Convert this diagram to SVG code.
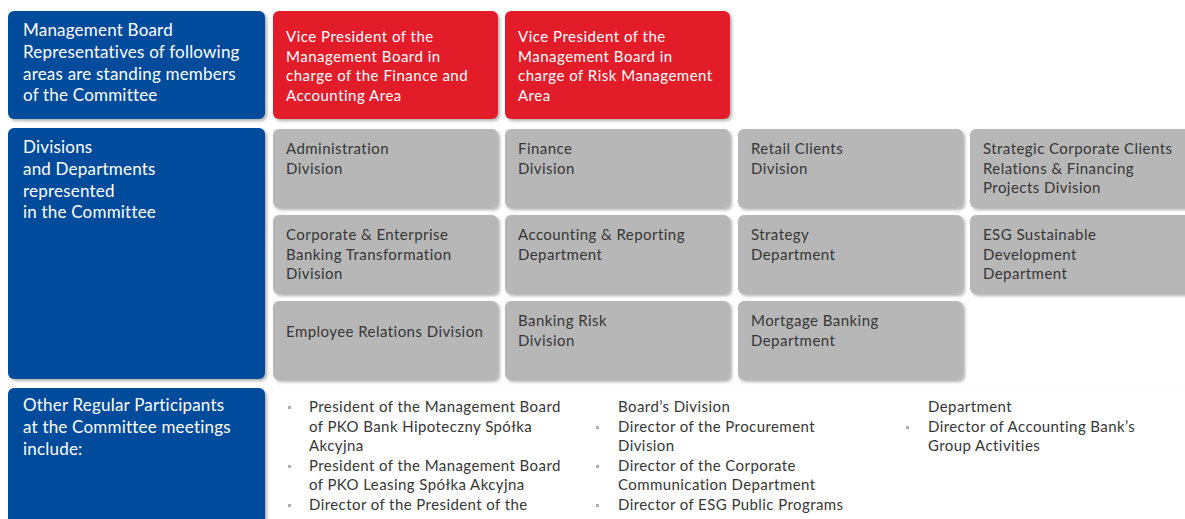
<svg xmlns="http://www.w3.org/2000/svg" width="1185" height="519" viewBox="0 0 1185 519">
<defs>
<filter id="sh" x="-5%" y="-5%" width="112%" height="120%">
<feDropShadow dx="2" dy="2" stdDeviation="1.5" flood-color="#000" flood-opacity="0.3"/>
</filter>
<style>
.blue{fill:#004c9b;filter:url(#sh)}
.red{fill:#e31d2c;filter:url(#sh)}
.grey{fill:#b7b7b7;filter:url(#sh)}
.bt{font-family:Lato,"Liberation Sans",sans-serif;font-size:17px;fill:#ffffff;letter-spacing:0.2px}
.rt{font-family:Lato,"Liberation Sans",sans-serif;font-size:15px;fill:#ffffff;letter-spacing:0.5px}
.gt{font-family:Lato,"Liberation Sans",sans-serif;font-size:15px;fill:#363636;letter-spacing:0.45px}
.lt{font-family:Lato,"Liberation Sans",sans-serif;font-size:15px;fill:#363636;letter-spacing:0.42px}
.bul{fill:#b0b0b0}
</style>
</defs>
<rect width="1185" height="519" fill="#ffffff"/>
<g id="panel-bottom">
<rect x="273" y="386" width="920" height="140" fill="#ffffff" filter="url(#sh)"/>
</g>
<g id="hdr-mgmt">
<rect class="blue" x="8" y="11" width="257" height="108" rx="6"/>
<text class="bt" x="23" y="36">Management Board</text>
<text class="bt" x="23" y="58">Representatives of following</text>
<text class="bt" x="23" y="80">areas are standing members</text>
<text class="bt" x="23" y="101">of the Committee</text>
</g>
<g id="vp-finance">
<rect class="red" x="273" y="11" width="225" height="108" rx="6"/>
<text class="rt" x="286" y="42">Vice President of the</text>
<text class="rt" x="286" y="62">Management Board in</text>
<text class="rt" x="286" y="81">charge of the Finance and</text>
<text class="rt" x="286" y="101">Accounting Area</text>
</g>
<g id="vp-risk">
<rect class="red" x="505" y="11" width="225" height="108" rx="6"/>
<text class="rt" x="518" y="42">Vice President of the</text>
<text class="rt" x="518" y="62">Management Board in</text>
<text class="rt" x="518" y="81">charge of Risk Management</text>
<text class="rt" x="518" y="101">Area</text>
</g>
<g id="hdr-divisions">
<rect class="blue" x="8" y="128" width="257" height="251" rx="6"/>
<text class="bt" x="23" y="153">Divisions</text>
<text class="bt" x="23" y="175">and Departments</text>
<text class="bt" x="23" y="197">represented</text>
<text class="bt" x="23" y="218">in the Committee</text>
</g>
<g id="admin">
<rect class="grey" x="273" y="129" width="225" height="79" rx="6"/>
<text class="gt" x="286" y="154">Administration</text>
<text class="gt" x="286" y="174">Division</text>
</g>
<g id="finance">
<rect class="grey" x="505" y="129" width="225" height="79" rx="6"/>
<text class="gt" x="518" y="154">Finance</text>
<text class="gt" x="518" y="174">Division</text>
</g>
<g id="retail">
<rect class="grey" x="738" y="129" width="225" height="79" rx="6"/>
<text class="gt" x="751" y="154">Retail Clients</text>
<text class="gt" x="751" y="174">Division</text>
</g>
<g id="strategic">
<rect class="grey" x="970" y="129" width="225" height="79" rx="6"/>
<text class="gt" x="983" y="154">Strategic Corporate Clients</text>
<text class="gt" x="983" y="174">Relations &amp; Financing</text>
<text class="gt" x="983" y="193">Projects Division</text>
</g>
<g id="corporate">
<rect class="grey" x="273" y="215" width="225" height="79" rx="6"/>
<text class="gt" x="286" y="240">Corporate &amp; Enterprise</text>
<text class="gt" x="286" y="260">Banking Transformation</text>
<text class="gt" x="286" y="279">Division</text>
</g>
<g id="accounting">
<rect class="grey" x="505" y="215" width="225" height="79" rx="6"/>
<text class="gt" x="518" y="240">Accounting &amp; Reporting</text>
<text class="gt" x="518" y="260">Department</text>
</g>
<g id="strategy">
<rect class="grey" x="738" y="215" width="225" height="79" rx="6"/>
<text class="gt" x="751" y="240">Strategy</text>
<text class="gt" x="751" y="260">Department</text>
</g>
<g id="esg">
<rect class="grey" x="970" y="215" width="225" height="79" rx="6"/>
<text class="gt" x="983" y="240">ESG Sustainable</text>
<text class="gt" x="983" y="260">Development</text>
<text class="gt" x="983" y="279">Department</text>
</g>
<g id="employee">
<rect class="grey" x="273" y="301" width="225" height="79" rx="6"/>
<text class="gt" x="286" y="337">Employee Relations Division</text>
</g>
<g id="banking-risk">
<rect class="grey" x="505" y="301" width="225" height="79" rx="6"/>
<text class="gt" x="518" y="326">Banking Risk</text>
<text class="gt" x="518" y="346">Division</text>
</g>
<g id="mortgage">
<rect class="grey" x="738" y="301" width="225" height="79" rx="6"/>
<text class="gt" x="751" y="326">Mortgage Banking</text>
<text class="gt" x="751" y="346">Department</text>
</g>
<g id="hdr-other">
<rect class="blue" x="8" y="388" width="257" height="140" rx="6"/>
<text class="bt" x="23" y="411">Other Regular Participants</text>
<text class="bt" x="23" y="433">at the Committee meetings</text>
<text class="bt" x="23" y="455">include:</text>
</g>
<g id="participants">
<rect class="bul" x="288" y="406" width="3" height="3"/>
<rect class="bul" x="288" y="465" width="3" height="3"/>
<rect class="bul" x="288" y="504" width="3" height="3"/>
<text class="lt" x="309" y="412">President of the Management Board</text>
<text class="lt" x="309" y="432">of PKO Bank Hipoteczny Spółka</text>
<text class="lt" x="309" y="451">Akcyjna</text>
<text class="lt" x="309" y="471">President of the Management Board</text>
<text class="lt" x="309" y="490">of PKO Leasing Spółka Akcyjna</text>
<text class="lt" x="309" y="510">Director of the President of the</text>
<rect class="bul" x="596" y="426" width="3" height="3"/>
<rect class="bul" x="596" y="465" width="3" height="3"/>
<rect class="bul" x="596" y="504" width="3" height="3"/>
<text class="lt" x="618" y="412">Board’s Division</text>
<text class="lt" x="618" y="432">Director of the Procurement</text>
<text class="lt" x="618" y="451">Division</text>
<text class="lt" x="618" y="471">Director of the Corporate</text>
<text class="lt" x="618" y="490">Communication Department</text>
<text class="lt" x="618" y="510">Director of ESG Public Programs</text>
<rect class="bul" x="906" y="426" width="3" height="3"/>
<text class="lt" x="928" y="412">Department</text>
<text class="lt" x="928" y="432">Director of Accounting Bank’s</text>
<text class="lt" x="928" y="451">Group Activities</text>
</g>
</svg>
